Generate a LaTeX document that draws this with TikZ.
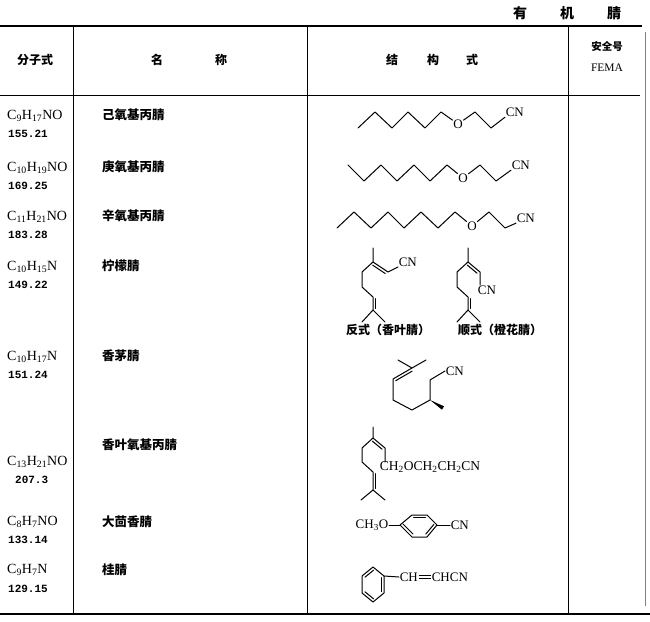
\documentclass[tikz,border=0pt]{standalone}
\usepackage{fontspec}
\setmainfont{Liberation Serif}
\newfontfamily\cjk{Noto Sans CJK SC}
\newfontfamily\numf{Liberation Mono}
\usetikzlibrary{calc}
\newcommand\dbL[2]{\draw[bond,shorten <=1.5pt,shorten >=1.5pt] ($(#1)!2.8pt!90:(#2)$) -- ($(#2)!2.8pt!-90:(#1)$);}
\newcommand\dbR[2]{\draw[bond,shorten <=1.5pt,shorten >=1.5pt] ($(#1)!2.8pt!-90:(#2)$) -- ($(#2)!2.8pt!90:(#1)$);}
\begin{document}
\begin{tikzpicture}[x=1pt,y=-1pt,
  formula/.style={anchor=west,inner sep=0pt,font=\fontsize{14}{14}\selectfont},
  mw/.style={anchor=west,inner sep=0pt,font=\numf\bfseries\fontsize{11}{11}\selectfont},
  cname/.style={anchor=west,inner sep=0pt,font=\cjk\bfseries\fontsize{12.5}{12.5}\selectfont},
  head/.style={inner sep=0pt,font=\cjk\bfseries\fontsize{12}{12}\selectfont},
  titlef/.style={inner sep=0pt,font=\cjk\bfseries\fontsize{14}{14}\selectfont},
  grp/.style={inner sep=0.6pt,font=\fontsize{13}{13}\selectfont},
  lab/.style={inner sep=0pt,font=\cjk\bfseries\fontsize{12}{12}\selectfont},
  bond/.style={line width=1pt,line cap=round,line join=round},
  rulel/.style={line width=1.4pt},
  gridl/.style={line width=0.7pt}]
\useasboundingbox (0,0) rectangle (650,621);
\fill[white] (0,0) rectangle (650,621);
% title
\node[titlef] (t1) at (520,13) {有};
\node[titlef] (t2) at (567,13) {机};
\node[titlef] (t3) at (614,13) {腈};
% table rules
\draw[rulel] (0,26) -- (642,26);
\draw[gridl] (0,95) -- (640,95);
\draw[rulel] (0,614) -- (650,614);
\draw[gridl] (73,26) -- (73,614);
\draw[gridl] (307,26) -- (307,614);
\draw[gridl] (568,26) -- (568,614);
\draw[line width=0.4pt,gray] (645,32) -- (645,606);
% header
\node[head] (h1) at (35,60) {分子式};
\node[head] (h2a) at (157,60) {名};
\node[head] (h2b) at (221,60) {称};
\node[head] (h3a) at (392,60) {结};
\node[head] (h3b) at (433,60) {构};
\node[head] (h3c) at (472,60) {式};
\node[head,font=\cjk\bfseries\fontsize{10.5}{10.5}\selectfont] (h4a) at (607,47) {安全号};
\node[inner sep=0pt,font=\fontsize{11.5}{11.5}\selectfont] (h4b) at (607,68) {FEMA};
% formulas
\node[formula] (f1) at (7,116) {C\textsubscript{9}H\textsubscript{17}NO};
\node[mw] (m1) at (8,134) {155.21};
\node[formula] (f2) at (7,168) {C\textsubscript{10}H\textsubscript{19}NO};
\node[mw] (m2) at (8,186) {169.25};
\node[formula] (f3) at (7,217) {C\textsubscript{11}H\textsubscript{21}NO};
\node[mw] (m3) at (8,235) {183.28};
\node[formula] (f4) at (7,267) {C\textsubscript{10}H\textsubscript{15}N};
\node[mw] (m4) at (8,285) {149.22};
\node[formula] (f5) at (7,357) {C\textsubscript{10}H\textsubscript{17}N};
\node[mw] (m5) at (8,375) {151.24};
\node[formula] (f6) at (7,462) {C\textsubscript{13}H\textsubscript{21}NO};
\node[mw] (m6) at (15,480) {207.3};
\node[formula] (f7) at (7,522) {C\textsubscript{8}H\textsubscript{7}NO};
\node[mw] (m7) at (8,540) {133.14};
\node[formula] (f8) at (7,570) {C\textsubscript{9}H\textsubscript{7}N};
\node[mw] (m8) at (8,589) {129.15};
% names
\node[cname] (n1) at (102,115) {己氧基丙腈};
\node[cname] (n2) at (102,167) {庚氧基丙腈};
\node[cname] (n3) at (102,216) {辛氧基丙腈};
\node[cname] (n4) at (102,266) {柠檬腈};
\node[cname] (n5) at (102,356) {香茅腈};
\node[cname] (n6) at (102,445) {香叶氧基丙腈};
\node[cname] (n7) at (102,522) {大茴香腈};
\node[cname] (n8) at (102,570) {桂腈};
% ---- row 1: hexyloxypropionitrile
\node[grp] (o1) at (458,124) {O};
\node[grp,anchor=west] (cn1) at (505,112) {CN};
\draw[bond] (358,128) -- (375,112) -- (392,128) -- (408,112) -- (425,128) -- (441,112) -- (o1);
\draw[bond] (o1) -- (475,112) -- (491,128) -- (cn1.south west);
% ---- row 2: heptyloxypropionitrile
\node[grp] (o2) at (463,178) {O};
\node[grp,anchor=west] (cn2) at (511,165) {CN};
\draw[bond] (348,165) -- (364,181) -- (381,165) -- (397,181) -- (414,165) -- (430,181) -- (447,165) -- (o2);
\draw[bond] (o2) -- (480,165) -- (496,181) -- (cn2.south west);
% ---- row 3: octyloxypropionitrile
\node[grp] (o3) at (472,226) {O};
\node[grp,anchor=west] (cn3) at (516,218) {CN};
\draw[bond] (337,228) -- (354,212) -- (371,228) -- (388,212) -- (404,228) -- (421,212) -- (438,228) -- (455,212) -- (o3);
\draw[bond] (o3) -- (489,212) -- (505,228) -- (cn3.south west);
% ---- row 4: citral nitriles
% trans (geranial nitrile)
\coordinate (aT) at (373,248); \coordinate (a3) at (373,262); \coordinate (a2) at (388,272);
\coordinate (a4) at (362,272); \coordinate (a5) at (362,287); \coordinate (a6) at (373,297);
\coordinate (a7) at (373,310); \coordinate (a8) at (362,322); \coordinate (a9) at (385,322);
\node[grp,anchor=south west] (cn4a) at (398,267) {CN};
\draw[bond] (aT) -- (a3) -- (a2) -- (cn4a.south west);
\draw[bond] (a3) -- (a4) -- (a5) -- (a6) -- (a7) -- (a8);
\draw[bond] (a7) -- (a9);
\dbR{a3}{a2}
\dbL{a6}{a7}
\node[lab] (l4a) at (388,330) {反式（香叶腈）};
% cis (neral nitrile)
\coordinate (bT) at (468,248); \coordinate (b3) at (468,262); \coordinate (b2) at (480,272);
\coordinate (b4) at (457,272); \coordinate (b5) at (457,287); \coordinate (b6) at (468,297);
\coordinate (b7) at (468,310); \coordinate (b8) at (457,322); \coordinate (b9) at (480,322);
\node[grp,anchor=north] (cn4b) at (487,285) {CN};
\draw[bond] (bT) -- (b3) -- (b2) -- (480,285);
\draw[bond] (b3) -- (b4) -- (b5) -- (b6) -- (b7) -- (b8);
\draw[bond] (b7) -- (b9);
\dbR{b3}{b2}
\dbL{b6}{b7}
\node[lab] (l4b) at (500,330) {顺式（橙花腈）};
% ---- row 5: citronellyl nitrile
\coordinate (c7) at (412,368); \coordinate (cmL) at (398,360); \coordinate (cmR) at (426,360);
\coordinate (c6) at (393,379); \coordinate (c5) at (393,400); \coordinate (c4) at (412,410);
\coordinate (c3) at (430,400); \coordinate (cme) at (443,408); \coordinate (c2) at (430,380);
\node[grp,anchor=west] (cn5) at (445,371) {CN};
\draw[bond] (cmL) -- (c7) -- (cmR);
\draw[bond] (c7) -- (c6) -- (c5) -- (c4) -- (c3) -- (c2) -- (cn5.west);
\dbL{c7}{c6}
\fill (c3) -- ($(cme)!2pt!90:(c3)$) -- ($(cme)!2pt!-90:(c3)$) -- cycle;
% ---- row 6: geranyloxypropionitrile
\coordinate (dT) at (373,427); \coordinate (d3) at (373,438); \coordinate (d2) at (385,448);
\coordinate (d4) at (362,448); \coordinate (d5) at (362,462); \coordinate (d6) at (373,472);
\coordinate (d7) at (373,490); \coordinate (d8) at (361,500); \coordinate (d9) at (385,500);
\node[grp,anchor=north west,font=\fontsize{13.5}{13.5}\selectfont] (g6) at (379,461) {CH\textsubscript{2}OCH\textsubscript{2}CH\textsubscript{2}CN};
\draw[bond] (dT) -- (d3) -- (d2) -- (385,462);
\draw[bond] (d3) -- (d4) -- (d5) -- (d6) -- (d7) -- (d8);
\draw[bond] (d7) -- (d9);
\dbR{d3}{d2}
\dbL{d6}{d7}
% ---- row 7: anisonitrile
\coordinate (eL) at (400,525); \coordinate (eTL) at (412,515); \coordinate (eTR) at (427,515);
\coordinate (eR) at (437,525); \coordinate (eBR) at (427,537); \coordinate (eBL) at (412,537);
\node[grp,anchor=east] (me7) at (389,525) {CH\textsubscript{3}O};
\node[grp,anchor=west] (cn7) at (450,525) {CN};
\draw[bond] (me7.east) -- (eL);
\draw[bond] (eL) -- (eTL) -- (eTR) -- (eR) -- (eBR) -- (eBL) -- cycle;
\draw[bond] (eR) -- (cn7.west);
\dbR{eTL}{eTR}
\dbR{eR}{eBR}
\dbR{eBL}{eL}
% ---- row 8: cinnamonitrile
\coordinate (fT) at (373,567); \coordinate (fUR) at (384,576); \coordinate (fLR) at (384,593);
\coordinate (fB) at (373,602); \coordinate (fLL) at (362,593); \coordinate (fUL) at (362,576);
\node[grp,anchor=west] (ch8) at (399,577) {CH};
\node[grp,anchor=west] (chcn8) at (431,577) {CHCN};
\draw[bond] (fT) -- (fUR) -- (fLR) -- (fB) -- (fLL) -- (fUL) -- cycle;
\draw[bond] (fUR) -- (ch8.west);
\dbR{fUR}{fLR}
\dbR{fB}{fLL}
\dbR{fUL}{fT}
\draw[line width=1.1pt] ($(ch8.east)+(0,-1.6)$) -- ($(chcn8.west)+(0,-1.6)$);
\draw[line width=1.1pt] ($(ch8.east)+(0,1.6)$) -- ($(chcn8.west)+(0,1.6)$);
\end{tikzpicture}
\end{document}
